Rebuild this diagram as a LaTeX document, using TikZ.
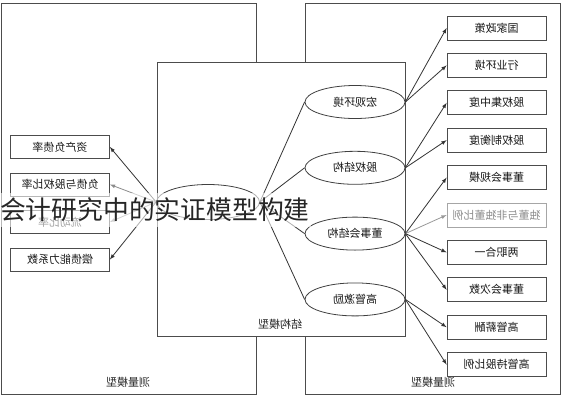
\documentclass[tikz,border=0pt]{standalone}
\usepackage{fontspec}
\usepackage{graphicx}
\setmainfont{Noto Sans CJK SC}
\usetikzlibrary{positioning,shapes.geometric}

\newcommand{\flip}[1]{\reflectbox{#1}}
\tikzset{
  frame/.style={draw=black!70, line width=0.9pt},
  meas/.style={rectangle, draw=black!70, line width=0.8pt, minimum width=99, minimum height=24, inner sep=0pt, font=\fontsize{11}{12}\selectfont, text=black!90},
  latent/.style={ellipse, draw=black!75, line width=0.8pt, minimum width=100, minimum height=33, inner sep=0pt, font=\fontsize{11}{12}\selectfont, text=black!90},
  link/.style={draw=black!80, line width=0.8pt},
  faint/.style={draw=black!35, text=black!45},
}

\begin{document}
\begin{tikzpicture}[x=1pt, y=-1pt, node distance=12.6pt, >=latex]
  \useasboundingbox (0,0) rectangle (562,400);
  \fill[white] (0,0) rectangle (562,400);
  % outer measurement frames
  \draw[frame] (1,3) rectangle (256,394);
  \draw[frame] (305,3) rectangle (560,394);
  \node (mL) at (128,382) [font=\fontsize{11}{12}\selectfont, text=black!85] {\flip{测量模型}};
  \node (mR) at (433,382) [font=\fontsize{11}{12}\selectfont, text=black!85] {\flip{测量模型}};
  % structural frame
  \draw[frame, fill=white] (157,62) rectangle (405,336);
  \node (sM) at (280,324) [font=\fontsize{11}{12}\selectfont, text=black!85] {\flip{结构模型}};

  % latent variables
  \node (core) at (208,202) [latent, minimum width=103, minimum height=35] {};
  \node (e1) at (355,102) [latent] {\flip{宏观环境}};
  \node (e2) [latent, below=32pt of e1] {\flip{股权结构}};
  \node (e3) [latent, below=32pt of e2] {\flip{董事会结构}};
  \node (e4) [latent, below=32pt of e3] {\flip{高管激励}};

  % left indicators
  \node (l1) at (60,147) [meas, minimum height=23] {\flip{资产负债率}};
  \node (l2) [meas, minimum height=23, below=13.7pt of l1] {\flip{负债与股权比率}};
  \node (l3) [meas, minimum height=23, below=13.7pt of l2] {\flip{流动比率}};
  \node (l4) [meas, minimum height=23, below=13.7pt of l3] {\flip{偿债能力系数}};

  % right indicators
  \node (b1) at (496.5,28) [meas] {\flip{国家政策}};
  \node (b2) [meas, below=of b1] {\flip{行业环境}};
  \node (b3) [meas, below=of b2] {\flip{股权集中度}};
  \node (b4) [meas, below=of b3] {\flip{股权制衡度}};
  \node (b5) [meas, below=of b4] {\flip{董事会规模}};
  \node (b6) [meas, faint, below=of b5] {\flip{独董与非独董比例}};
  \node (b7) [meas, below=of b6] {\flip{两职合一}};
  \node (b8) [meas, below=of b7] {\flip{董事会次数}};
  \node (b9) [meas, below=of b8] {\flip{高管薪酬}};
  \node (b10) [meas, below=of b9] {\flip{高管持股比例}};

  % paths
  \draw[link, ->] (core.west) -- (l1.east);
  \draw[link, ->, draw=black!45] (core.west) -- (l2.east);
  \draw[link, ->, draw=black!45] (core.west) -- (l3.east);
  \draw[link, ->] (core.west) -- (l4.east);
  \draw[link] (core.east) -- (e1.west);
  \draw[link] (core.east) -- (e2.west);
  \draw[link] (core.east) -- (e3.west);
  \draw[link] (core.east) -- (e4.west);
  \draw[link, ->] (e1.east) -- (b1.west);
  \draw[link, ->] (e1.east) -- (b2.west);
  \draw[link, ->] (e2.east) -- (b3.west);
  \draw[link, ->] (e2.east) -- (b4.west);
  \draw[link, ->] (e3.east) -- (b5.west);
  \draw[link, ->, draw=black!40] (e3.east) -- (b6.west);
  \draw[link, ->] (e3.east) -- (b7.west);
  \draw[link, ->] (e3.east) -- (b8.west);
  \draw[link, ->] (e4.east) -- (b9.west);
  \draw[link, ->] (e4.east) -- (b10.west);

  % overlaid caption
  \node (wm) at (155,210) [fill=white, fill opacity=0.6, text opacity=1, text=black!85, inner xsep=1pt, inner ysep=5pt, font=\fontsize{25.8}{28}\selectfont] {会计研究中的实证模型构建};
\end{tikzpicture}
\end{document}
